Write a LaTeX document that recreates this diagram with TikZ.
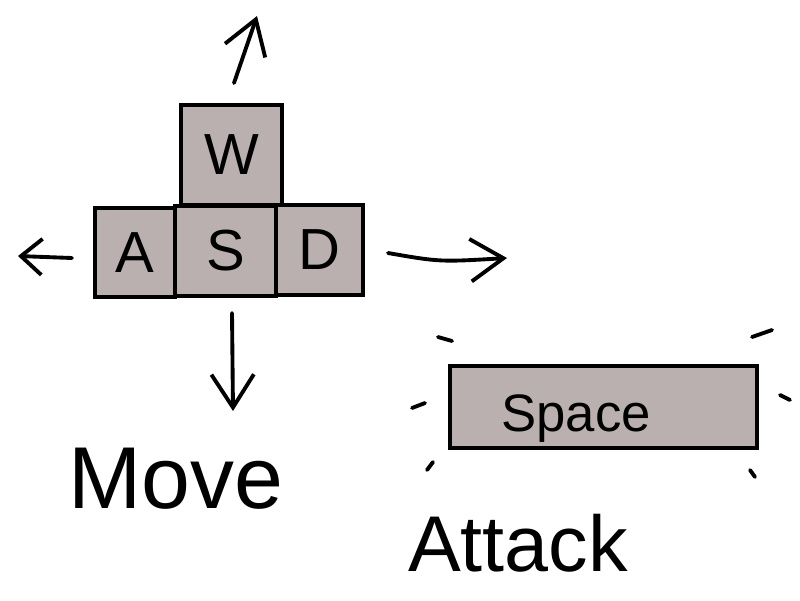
\documentclass[tikz,border=0pt]{standalone}
\usepackage{fontspec}
\setmainfont{Liberation Sans}
\usetikzlibrary{arrows.meta}
\definecolor{keygray}{RGB}{185,176,175}
\begin{document}
\begin{tikzpicture}[x=0.02cm,y=-0.02cm,
  key/.style={draw=black,fill=keygray,line width=2.2pt,inner sep=0pt,font=\fontsize{33}{40}\selectfont},
  movearrow/.style={line width=2.2pt,line cap=round,line join=round,-{Straight Barb[length=0.66cm,width=0.85cm]}},
  spark/.style={line width=2.2pt,line cap=round},
  lbl/.style={inner sep=0pt,anchor=base}]
\fill[white] (0,0) rectangle (800,600);
\useasboundingbox (0,0) rectangle (800,600);
% keys
\node[key,minimum width=2.02cm,minimum height=2cm] (w) at (231.5,155) {W};
\node[key,minimum width=1.6cm,minimum height=1.78cm] (a) at (135,252.5) {A};
\node[key,minimum width=1.74cm,minimum height=1.8cm] (d) at (319.5,250) {D};
\node[key,minimum width=2.02cm,minimum height=1.8cm] (s) at (225.5,251) {S};
% arrows
\coordinate (up0) at (234,83);  \coordinate (up1) at (257,16);
\coordinate (lf0) at (72,258);  \coordinate (lf1) at (18,256);
\coordinate (rt0) at (388,253); \coordinate (rt1) at (507,258);
\coordinate (dn0) at (232,313); \coordinate (dn1) at (233,411);
\draw[movearrow] (up0) -- (up1);
\draw[movearrow,-{Straight Barb[length=0.42cm,width=0.72cm]}] (lf0) -- (lf1);
\draw[movearrow] (rt0) .. controls (440,262) .. (rt1);
\draw[movearrow] (dn0) -- (dn1);
\node[lbl,font=\fontsize{50}{60}\selectfont] (move) at (176,508) {Move};
% space key
\node[key,minimum width=6.14cm,minimum height=1.64cm] (space) at (603.5,407) {};
\node[lbl,font=\fontsize{30}{36}\selectfont] (spacetxt) at (576,431) {Space};
\draw[spark] (438,337) -- (452,341);
\draw[spark] (752,337) -- (772,330);
\draw[spark] (412,408) -- (425,403);
\draw[spark] (780,395) -- (790,400);
\draw[spark] (427,470) -- (433,462);
\draw[spark] (750,470) -- (755,477);
\node[lbl,font=\fontsize{45}{54}\selectfont] (attack) at (518,571) {Attack};
\end{tikzpicture}
\end{document}
